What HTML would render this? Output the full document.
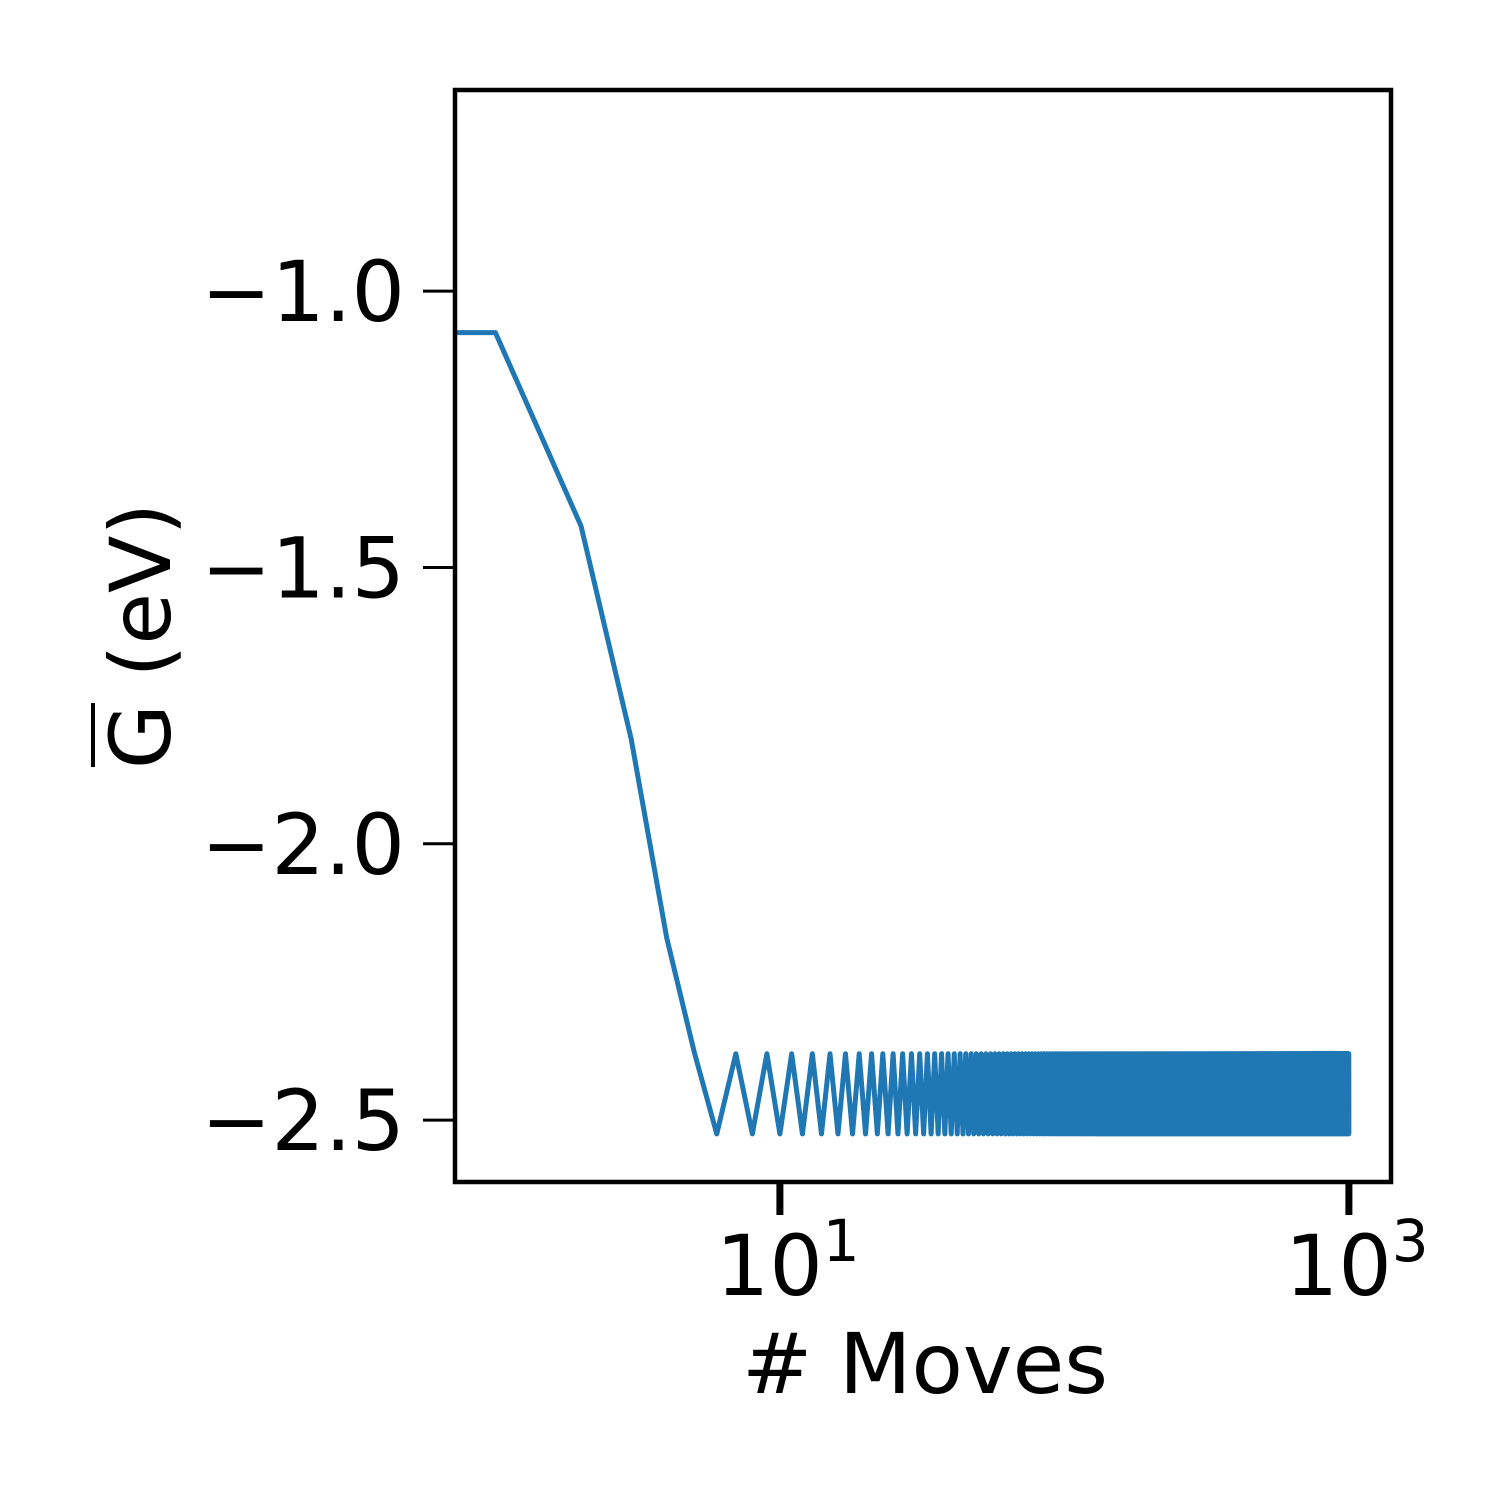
<!DOCTYPE html>
<html><head><meta charset="utf-8">
<style>
html,body{margin:0;padding:0;background:#fff;}
svg{display:block;font-family:"DejaVu Sans","Liberation Sans",sans-serif;}
</style></head>
<body>
<svg id="chart" width="1500" height="1500" viewBox="0 0 1500 1500" xmlns="http://www.w3.org/2000/svg">
<rect x="0" y="0" width="1500" height="1500" fill="#fff"/>
<g id="plot"></g>
<g id="axes"></g>
</svg>
<script>
// Values for moves 0..40
const headValues = [-1.075, -1.075, -1.425, -1.81, -2.17, -2.377, -2.525,
  -2.38, -2.525, -2.38, -2.525, -2.38, -2.525, -2.38, -2.525, -2.38, -2.525,
  -2.38, -2.525, -2.38, -2.525, -2.38, -2.525, -2.38, -2.525, -2.38, -2.525,
  -2.38, -2.525, -2.38, -2.525, -2.38, -2.525, -2.38, -2.525, -2.38, -2.525,
  -2.38, -2.525, -2.38, -2.525];
// Dense oscillation after move 40: odd moves at high value, even moves at low value
const oscHigh = [-2.38];
const oscLow = [-2.525];
const oscMoveRange = [41, 1000];
const yTickValues = [-1.0, -1.5, -2.0, -2.5];
const yTickLabels = ["\u22121.0", "\u22121.5", "\u22122.0", "\u22122.5"];
const xTickValues = [10, 1000];
const xTickBases = ["10", "10"];
const xTickExps = ["1", "3"];

const NS = "http://www.w3.org/2000/svg";
const L = 455, R = 1391, T = 90, B = 1182;
const xMinLog = -0.142, xMaxLog = 3.148;
const yMin = -2.612, yMax = -0.636;
function xs(v) {
  const lv = v > 0 ? Math.log10(v) : xMinLog - 1;
  return L + (lv - xMinLog) / (xMaxLog - xMinLog) * (R - L);
}
function ys(v) { return B - (v - yMin) / (yMax - yMin) * (B - T); }
function mk(tag, attrs, parent) {
  const el = document.createElementNS(NS, tag);
  for (const k in attrs) el.setAttribute(k, attrs[k]);
  parent.appendChild(el);
  return el;
}
const plot = document.getElementById('plot');
const axes = document.getElementById('axes');

const defs = mk('defs', {}, plot);
const cp = mk('clipPath', {id: 'clip'}, defs);
mk('rect', {x: L, y: T, width: R - L, height: B - T}, cp);

const pts = [];
headValues.forEach((v, i) => pts.push([i, v]));
for (let m = oscMoveRange[0]; m <= oscMoveRange[1]; m++) {
  pts.push([m, (m % 2 === 1) ? oscHigh[0] : oscLow[0]]);
}
let d = '';
pts.forEach((p, i) => {
  d += (i === 0 ? 'M' : 'L') + xs(p[0]).toFixed(2) + ',' + ys(p[1]).toFixed(2);
});
const line = mk('path', {d: d, fill: 'none', stroke: '#1f77b4', 'stroke-width': 5, 'stroke-linejoin': 'round', 'clip-path': 'url(#clip)'}, plot);



const frame = mk('rect', {x: L, y: T, width: R - L, height: B - T, fill: 'none', stroke: '#000', 'stroke-width': 4.5}, axes);



yTickValues.forEach((v, i) => {
  const y = ys(v);
  const t = mk('line', {x1: L - 32, x2: L, y1: y, y2: y, stroke: '#000', 'stroke-width': 3}, axes);
  
  
  const lab = mk('text', {x: 405, y: y + 30, 'text-anchor': 'end', 'font-size': 84, fill: '#000'}, axes);
  lab.textContent = yTickLabels[i];
  
  
});

xTickValues.forEach((v, i) => {
  const x = xs(v);
  const t = mk('line', {x1: x, x2: x, y1: B, y2: B + 33, stroke: '#000', 'stroke-width': 7}, axes);
  
  
  const lab = mk('text', {x: x - 64, y: 1295, 'font-size': 84, fill: '#000'}, axes);
  
  
  const b = mk('tspan', {}, lab);
  b.textContent = xTickBases[i];
  const e = mk('tspan', {dy: -34, 'font-size': 58}, lab);
  e.textContent = xTickExps[i];
});

const xl = mk('text', {x: 925, y: 1393, 'text-anchor': 'middle', 'font-size': 84, fill: '#000'}, axes);
xl.textContent = '# Moves';



const yl = mk('text', {x: 0, y: 0, 'text-anchor': 'middle', 'font-size': 84, fill: '#000', transform: 'translate(170,636) rotate(-90)'}, axes);


yl.textContent = 'G (eV)';
const ov = mk('line', {x1: 93, x2: 93, y1: 703, y2: 767, stroke: '#000', 'stroke-width': 4}, axes);


</script>
</body></html>
